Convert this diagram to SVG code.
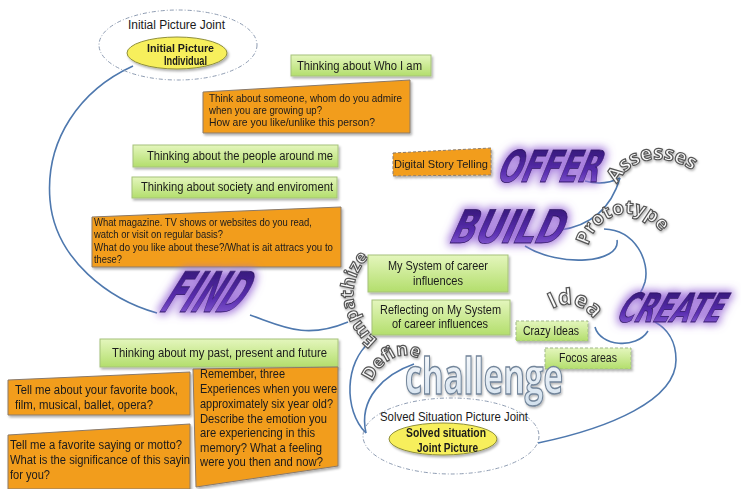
<svg xmlns="http://www.w3.org/2000/svg" width="741" height="489" viewBox="0 0 741 489">
<style>
.t{font-family:"Liberation Sans",Arial,sans-serif;fill:#1a1a1a}
.g{fill:url(#gg);stroke:#a6c27a;stroke-width:1}
.gd{fill:url(#gg);stroke:#9fb887;stroke-width:1;stroke-dasharray:3 2}
.o{fill:#f29d1f;stroke:#8a7a6a;stroke-width:1}
.od{fill:#f29d1f;stroke:#8a7a6a;stroke-width:1;stroke-dasharray:3 2}
.y{fill:#f7ef5c;stroke:#8f8f3a;stroke-width:1}
.de{fill:none;stroke:#8e9cb2;stroke-width:1;stroke-dasharray:4 2 1 2}
.c{fill:none;stroke:#4e78ae;stroke-width:1.6}
.wa{font-family:"DejaVu Sans",sans-serif;font-weight:bold;fill:url(#pg);stroke:#2b1260;stroke-width:0.8}
.ct{font-family:"Open Sans","DejaVu Sans",sans-serif;font-weight:bold;fill:#fafafa;stroke:#555;stroke-width:1.2}
</style>
<defs>
<linearGradient id="gg" x1="0" y1="0" x2="0" y2="1"><stop offset="0" stop-color="#e4f6bd"/><stop offset="1" stop-color="#b3de6c"/></linearGradient>
<linearGradient id="pg" x1="0" y1="0" x2="0" y2="1"><stop offset="0" stop-color="#2a1068"/><stop offset="0.6" stop-color="#5a2fb0"/><stop offset="1" stop-color="#9a70e0"/></linearGradient>
<linearGradient id="cg" x1="0" y1="0" x2="0" y2="1"><stop offset="0" stop-color="#ffffff"/><stop offset="1" stop-color="#cfdeec"/></linearGradient>
<filter id="glow" x="-30%" y="-60%" width="160%" height="220%">
<feMorphology in="SourceAlpha" operator="dilate" radius="2" result="d"/>
<feGaussianBlur in="d" stdDeviation="4" result="b"/>
<feFlood flood-color="#9a6ad8" flood-opacity="0.9"/>
<feComposite in2="b" operator="in" result="gl"/>
<feMerge><feMergeNode in="gl"/><feMergeNode in="SourceGraphic"/></feMerge>
</filter>
<filter id="sh" x="-10%" y="-20%" width="130%" height="150%">
<feDropShadow dx="1.5" dy="2" stdDeviation="1.2" flood-color="#000" flood-opacity="0.3"/>
</filter>
<filter id="ts" x="-10%" y="-20%" width="130%" height="150%">
<feDropShadow dx="1" dy="1.5" stdDeviation="1" flood-color="#000" flood-opacity="0.3"/>
</filter>
<path id="pA" d="M617,184 C630,158 668,146 708,182"/>
<path id="pP" d="M588,246 C598,208 650,196 672,252"/>
<path id="pI" d="M552,309 C572,297 594,310 602,336"/>
<path id="pE" d="M378,340 C350,318 343,282 372,254"/>
<path id="pD" d="M372,382 C384,354 410,347 428,366"/>
</defs>

<g id="connectors">
<path class="c" d="M133,66 C80,90 45,140 50,200 C55,260 110,300 157,313"/>
<path class="c" d="M250,315 C282,326 305,340 348,322"/>
<path class="c" d="M370,342 C345,362 343,410 366,433"/>
<path class="c" d="M414,364 C385,374 358,398 366,433"/>
<path class="c" d="M538,443 C610,428 676,400 676,360 C676,340 666,328 655,322"/>
<path class="c" d="M595,327 C600,346 636,350 648,331"/>
<path class="c" d="M604,229 C636,230 650,262 645,282 C642,292 638,298 632,300"/>
<path class="c" d="M617,240 C621,263 560,268 525,246"/>
<path class="c" d="M620,178 C612,205 595,225 560,230"/>
<path class="c" d="M585,181 C600,185 610,183 620,178"/>
</g>

<g id="initial-joint">
<ellipse class="de" cx="178" cy="45" rx="79" ry="35"/>
<text class="t" x="128" y="29" font-size="12" textLength="97" lengthAdjust="spacingAndGlyphs">Initial Picture Joint</text>
</g>
<g id="initial-individual" filter="url(#sh)">
<ellipse class="y" cx="177" cy="53" rx="50" ry="16"/>
<text class="t" x="147" y="52" font-size="11.5" font-weight="bold" textLength="67" lengthAdjust="spacingAndGlyphs">Initial Picture</text>
<text class="t" x="164" y="65" font-size="12" font-weight="bold" textLength="43" lengthAdjust="spacingAndGlyphs">Individual</text>
</g>

<g id="who-i-am" filter="url(#sh)">
<rect class="g" x="291" y="55" width="140" height="21"/>
<text class="t" x="297" y="70" font-size="12.5" textLength="125" lengthAdjust="spacingAndGlyphs">Thinking about Who I am</text>
</g>

<g id="admire" filter="url(#sh)">
<polygon class="o" points="203,92 410,80 410,133 203,133"/>
<text class="t" x="209" y="102" font-size="11" textLength="193" lengthAdjust="spacingAndGlyphs">Think about someone, whom do you admire</text>
<text class="t" x="209" y="114" font-size="11" textLength="113" lengthAdjust="spacingAndGlyphs">when you are growing up?</text>
<text class="t" x="209" y="126" font-size="11" textLength="166" lengthAdjust="spacingAndGlyphs">How are you like/unlike this person?</text>
</g>

<g id="people" filter="url(#sh)">
<rect class="g" x="133" y="145" width="205" height="22"/>
<text class="t" x="147" y="160" font-size="12.5" textLength="186" lengthAdjust="spacingAndGlyphs">Thinking about the people around me</text>
</g>
<g id="society" filter="url(#sh)">
<rect class="g" x="132" y="177" width="205" height="21"/>
<text class="t" x="141" y="191" font-size="12.5" textLength="192" lengthAdjust="spacingAndGlyphs">Thinking about society and enviroment</text>
</g>

<g id="magazine" filter="url(#sh)">
<polygon class="o" points="92,217 341,207 341,267 92,267"/>
<text class="t" x="94" y="226" font-size="11" textLength="218" lengthAdjust="spacingAndGlyphs">What magazine. TV shows or websites do you read,</text>
<text class="t" x="94" y="238" font-size="11" textLength="129" lengthAdjust="spacingAndGlyphs">watch or visit on regular basis?</text>
<text class="t" x="94" y="251" font-size="11" textLength="239" lengthAdjust="spacingAndGlyphs">What do you like about these?/What is ait attracs you to</text>
<text class="t" x="94" y="263" font-size="11" textLength="28" lengthAdjust="spacingAndGlyphs">these?</text>
</g>

<g id="digital" filter="url(#sh)">
<polygon class="od" points="393,153 491,148 491,175 393,176"/>
<text class="t" x="394" y="168" font-size="11" textLength="94" lengthAdjust="spacingAndGlyphs">Digital Story Telling</text>
</g>

<g id="offer" filter="url(#glow)">
<text class="wa" transform="translate(495,182) skewX(-22)" font-size="44" textLength="102" lengthAdjust="spacingAndGlyphs">OFFER</text>
</g>
<g id="build" filter="url(#glow)">
<text class="wa" transform="translate(447,243) skewX(-24)" font-size="46" textLength="112" lengthAdjust="spacingAndGlyphs">BUILD</text>
</g>
<g id="find" filter="url(#glow)">
<text class="wa" transform="translate(157,312) skewX(-32)" font-size="56" textLength="80" lengthAdjust="spacingAndGlyphs">FIND</text>
</g>
<g id="create" filter="url(#glow)">
<text class="wa" transform="translate(614,322) skewX(-28)" font-size="40" textLength="104" lengthAdjust="spacingAndGlyphs">CREATE</text>
</g>

<g id="assesses" filter="url(#ts)"><text class="ct" font-size="20"><textPath href="#pA">Assesses</textPath></text></g>
<g id="prototype" filter="url(#ts)"><text class="ct" font-size="19"><textPath href="#pP">Prototype</textPath></text></g>
<g id="idea" filter="url(#ts)"><text class="ct" font-size="22"><textPath href="#pI">Idea</textPath></text></g>
<g id="empathize" filter="url(#ts)"><text class="ct" font-size="18"><textPath href="#pE">Empathize</textPath></text></g>
<g id="define" filter="url(#ts)"><text class="ct" font-size="18"><textPath href="#pD">Define</textPath></text></g>

<g id="my-system" filter="url(#sh)">
<rect class="g" x="368" y="255" width="140" height="37"/>
<text class="t" x="388" y="270" font-size="12.5" textLength="100" lengthAdjust="spacingAndGlyphs">My System of career</text>
<text class="t" x="413" y="285" font-size="12.5" textLength="50" lengthAdjust="spacingAndGlyphs">influences</text>
</g>
<g id="reflecting" filter="url(#sh)">
<rect class="g" x="372" y="300" width="138" height="35"/>
<text class="t" x="380" y="314" font-size="12.5" textLength="121" lengthAdjust="spacingAndGlyphs">Reflecting on My System</text>
<text class="t" x="392" y="328" font-size="12.5" textLength="96" lengthAdjust="spacingAndGlyphs">of career influences</text>
</g>
<g id="crazy" filter="url(#sh)">
<rect class="gd" x="516" y="321" width="72" height="20"/>
<text class="t" x="523" y="335" font-size="12" textLength="56" lengthAdjust="spacingAndGlyphs">Crazy Ideas</text>
</g>
<g id="focos" filter="url(#sh)">
<rect class="gd" x="545" y="348" width="86" height="21"/>
<text class="t" x="559" y="362" font-size="12" textLength="58" lengthAdjust="spacingAndGlyphs">Focos areas</text>
</g>

<g id="past" filter="url(#sh)">
<rect class="g" x="100" y="339" width="238" height="28"/>
<text class="t" x="112" y="357" font-size="13" textLength="215" lengthAdjust="spacingAndGlyphs">Thinking about my past, present and future</text>
</g>

<g id="book" filter="url(#sh)">
<polygon class="o" points="8,380 190,372 190,415 8,415"/>
<text class="t" x="15" y="394" font-size="12.5" textLength="163" lengthAdjust="spacingAndGlyphs">Tell me about your favorite book,</text>
<text class="t" x="15" y="409" font-size="12.5" textLength="138" lengthAdjust="spacingAndGlyphs">film, musical, ballet, opera?</text>
</g>
<g id="saying" filter="url(#sh)">
<polygon class="o" points="8,435 190,424 190,489 8,489"/>
<text class="t" x="10" y="449" font-size="12.5" textLength="172" lengthAdjust="spacingAndGlyphs">Tell me a favorite saying or motto?</text>
<text class="t" x="10" y="464" font-size="12.5" textLength="180" lengthAdjust="spacingAndGlyphs">What is the significance of this sayin</text>
<text class="t" x="10" y="479" font-size="12.5" textLength="40" lengthAdjust="spacingAndGlyphs">for you?</text>
</g>
<g id="remember" filter="url(#sh)">
<polygon class="o" points="193,369 338,367 338,466 196,487"/>
<text class="t" x="200" y="378" font-size="13" textLength="85" lengthAdjust="spacingAndGlyphs">Remember, three</text>
<text class="t" x="200" y="393" font-size="13" textLength="137" lengthAdjust="spacingAndGlyphs">Experiences when you were</text>
<text class="t" x="200" y="408" font-size="13" textLength="133" lengthAdjust="spacingAndGlyphs">approximately six year old?</text>
<text class="t" x="200" y="423" font-size="13" textLength="127" lengthAdjust="spacingAndGlyphs">Describe the emotion you</text>
<text class="t" x="200" y="437" font-size="13" textLength="115" lengthAdjust="spacingAndGlyphs">are experiencing in this</text>
<text class="t" x="200" y="452" font-size="13" textLength="122" lengthAdjust="spacingAndGlyphs">memory? What a feeling</text>
<text class="t" x="200" y="466" font-size="13" textLength="123" lengthAdjust="spacingAndGlyphs">were you then and now?</text>
</g>

<g id="challenge" filter="url(#ts)">
<text x="405" y="394" font-family="Open Sans,DejaVu Sans,sans-serif" font-weight="bold" font-size="50" fill="url(#cg)" stroke="#72859a" stroke-width="1.5" textLength="158" lengthAdjust="spacingAndGlyphs">challenge</text>
</g>

<g id="solved-joint">
<ellipse class="de" cx="451" cy="436" rx="88" ry="38"/>
<text class="t" x="380" y="421" font-size="12.5" textLength="148" lengthAdjust="spacingAndGlyphs">Solved Situation Picture Joint</text>
</g>
<g id="solved-individual" filter="url(#sh)">
<ellipse class="y" cx="443" cy="439" rx="54" ry="16"/>
<text class="t" x="406" y="437" font-size="12" font-weight="bold" textLength="80" lengthAdjust="spacingAndGlyphs">Solved situation</text>
<text class="t" x="417" y="452" font-size="12.5" font-weight="bold" textLength="61" lengthAdjust="spacingAndGlyphs">Joint Picture</text>
</g>
</svg>
